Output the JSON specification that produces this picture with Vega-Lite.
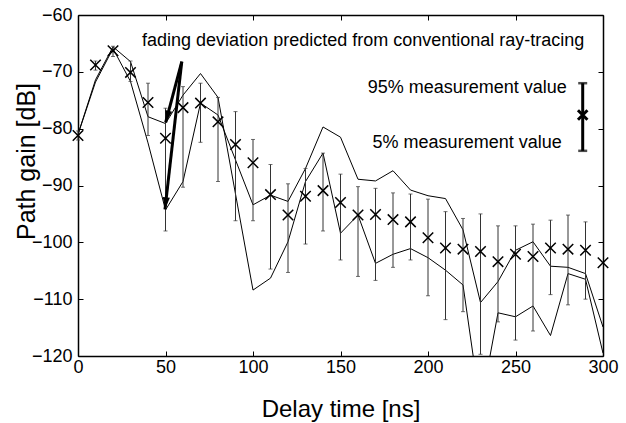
{
  "$schema": "https://vega.github.io/schema/vega-lite/v6.json",
  "width": 525,
  "height": 341,
  "autosize": {"type": "none"},
  "padding": {"left": 78, "top": 15, "right": 23, "bottom": 67},
  "background": "white",
  "config": {
    "view": {"stroke": null},
    "font": "Liberation Sans",
    "axis": {
      "grid": false,
      "domainColor": "black",
      "domainWidth": 1.5,
      "tickColor": "black",
      "tickWidth": 1,
      "tickSize": -5,
      "labelColor": "black",
      "labelFont": "Liberation Sans",
      "labelFontSize": 18,
      "labelFlush": false,
      "labelOverlap": false,
      "titleColor": "black",
      "titleFont": "Liberation Sans",
      "titleFontWeight": "normal",
      "titleFontSize": 24
    }
  },
  "datasets": {
    "meas": [
      {"t": 0, "m": -81.2, "lo": -82.0, "hi": -80.4},
      {"t": 10, "m": -68.8, "lo": -69.7, "hi": -68.1},
      {"t": 20, "m": -66.3, "lo": -67.3, "hi": -65.5},
      {"t": 30, "m": -70.1, "lo": -71.7, "hi": -68.1},
      {"t": 40, "m": -75.4, "lo": -81.2, "hi": -72.0},
      {"t": 50, "m": -81.7, "lo": -98.0, "hi": -76.4},
      {"t": 60, "m": -76.3, "lo": -90.3, "hi": -72.6},
      {"t": 70, "m": -75.5, "lo": -82.4, "hi": -72.0},
      {"t": 80, "m": -78.8, "lo": -89.3, "hi": -74.5},
      {"t": 90, "m": -82.8, "lo": -96.2, "hi": -77.0},
      {"t": 100, "m": -86.0, "lo": -96.2, "hi": -81.9},
      {"t": 110, "m": -91.6, "lo": -104.7, "hi": -86.3},
      {"t": 120, "m": -95.2, "lo": -105.3, "hi": -89.7},
      {"t": 130, "m": -91.9, "lo": -100.3, "hi": -87.0},
      {"t": 140, "m": -90.9, "lo": -98.0, "hi": -84.3},
      {"t": 150, "m": -93.0, "lo": -103.1, "hi": -88.0},
      {"t": 160, "m": -95.2, "lo": -106.0, "hi": -90.2},
      {"t": 170, "m": -95.1, "lo": -106.7, "hi": -90.5},
      {"t": 180, "m": -96.0, "lo": -104.4, "hi": -91.3},
      {"t": 190, "m": -96.4, "lo": -103.1, "hi": -91.5},
      {"t": 200, "m": -99.2, "lo": -109.4, "hi": -92.4},
      {"t": 210, "m": -101.0, "lo": -113.6, "hi": -94.6},
      {"t": 220, "m": -101.2, "lo": -112.2, "hi": -95.8},
      {"t": 230, "m": -101.6, "lo": -119.7, "hi": -95.0},
      {"t": 240, "m": -103.4, "lo": -114.0, "hi": -97.1},
      {"t": 250, "m": -102.1, "lo": -117.2, "hi": -97.1},
      {"t": 260, "m": -102.5, "lo": -115.6, "hi": -96.8},
      {"t": 270, "m": -101.0, "lo": -109.2, "hi": -96.1},
      {"t": 280, "m": -101.2, "lo": -111.0, "hi": -95.2},
      {"t": 290, "m": -101.4, "lo": -110.0, "hi": -96.4},
      {"t": 300, "m": -103.6, "lo": null, "hi": null}
    ],
    "pred": [
      {"s": "A", "t": 0, "g": -81.0}, {"s": "A", "t": 10, "g": -71.4}, {"s": "A", "t": 20, "g": -65.6},
      {"s": "A", "t": 30, "g": -68.2}, {"s": "A", "t": 40, "g": -77.9}, {"s": "A", "t": 50, "g": -79.1},
      {"s": "A", "t": 60, "g": -74.1}, {"s": "A", "t": 70, "g": -70.3}, {"s": "A", "t": 80, "g": -74.5},
      {"s": "A", "t": 90, "g": -91.5}, {"s": "A", "t": 100, "g": -108.4}, {"s": "A", "t": 110, "g": -106.3},
      {"s": "A", "t": 120, "g": -99.9}, {"s": "A", "t": 130, "g": -89.3}, {"s": "A", "t": 140, "g": -84.3},
      {"s": "A", "t": 150, "g": -98.4}, {"s": "A", "t": 160, "g": -95.2}, {"s": "A", "t": 170, "g": -103.7},
      {"s": "A", "t": 180, "g": -102.1}, {"s": "A", "t": 190, "g": -101.1}, {"s": "A", "t": 200, "g": -102.7},
      {"s": "A", "t": 210, "g": -104.9}, {"s": "A", "t": 220, "g": -107.5}, {"s": "A", "t": 230, "g": -129.0},
      {"s": "A", "t": 240, "g": -112.4}, {"s": "A", "t": 250, "g": -113.1}, {"s": "A", "t": 260, "g": -111.2},
      {"s": "A", "t": 270, "g": -116.4}, {"s": "A", "t": 280, "g": -105.5}, {"s": "A", "t": 290, "g": -106.5},
      {"s": "A", "t": 300, "g": -119.5},
      {"s": "B", "t": 0, "g": -81.0}, {"s": "B", "t": 10, "g": -71.8}, {"s": "B", "t": 20, "g": -65.9},
      {"s": "B", "t": 30, "g": -71.7}, {"s": "B", "t": 40, "g": -82.5}, {"s": "B", "t": 50, "g": -94.3},
      {"s": "B", "t": 60, "g": -89.3}, {"s": "B", "t": 70, "g": -75.5}, {"s": "B", "t": 80, "g": -77.6},
      {"s": "B", "t": 90, "g": -85.5}, {"s": "B", "t": 100, "g": -93.4}, {"s": "B", "t": 110, "g": -91.7},
      {"s": "B", "t": 120, "g": -92.8}, {"s": "B", "t": 130, "g": -87.0}, {"s": "B", "t": 140, "g": -79.7},
      {"s": "B", "t": 150, "g": -81.5}, {"s": "B", "t": 160, "g": -88.9}, {"s": "B", "t": 170, "g": -89.2},
      {"s": "B", "t": 180, "g": -87.4}, {"s": "B", "t": 190, "g": -90.8}, {"s": "B", "t": 200, "g": -91.8},
      {"s": "B", "t": 210, "g": -92.3}, {"s": "B", "t": 220, "g": -97.8}, {"s": "B", "t": 230, "g": -110.6},
      {"s": "B", "t": 240, "g": -106.9}, {"s": "B", "t": 250, "g": -101.4}, {"s": "B", "t": 260, "g": -99.9},
      {"s": "B", "t": 270, "g": -104.2}, {"s": "B", "t": 280, "g": -104.4}, {"s": "B", "t": 290, "g": -105.5},
      {"s": "B", "t": 300, "g": -114.9}
    ],
    "arrows": [
      {"id": "a1", "t0": 59.3, "g0": -68.2, "t1": 50.1, "g1": -78.9},
      {"id": "a2", "t0": 59.3, "g0": -68.2, "t1": 49.7, "g1": -94.2}
    ],
    "notes": [
      {"t": 36.6, "g": -65.45, "label": "fading deviation predicted from conventional ray-tracing", "pos": "left"},
      {"t": 279.3, "g": -73.7, "label": "95% measurement value", "pos": "right"},
      {"t": 276.4, "g": -83.4, "label": "5% measurement value", "pos": "right"}
    ],
    "key": [
      {"t": 288.4, "m": -77.6, "lo": -83.9, "hi": -72.0}
    ]
  },
  "resolve": {"axis": {"x": "independent", "y": "independent"}},
  "layer": [
    {
      "data": {"name": "pred"},
      "mark": {"type": "line", "color": "black", "strokeWidth": 1, "clip": true},
      "encoding": {
        "x": {"field": "t", "type": "quantitative", "scale": {"domain": [0, 300], "nice": false, "zero": false},
          "axis": {"orient": "bottom", "values": [0, 50, 100, 150, 200, 250, 300], "title": "Delay time [ns]",
            "labelPadding": 7, "titleY": 60, "titleBaseline": "alphabetic"}},
        "y": {"field": "g", "type": "quantitative", "scale": {"domain": [-120, -60], "nice": false, "zero": false},
          "axis": {"orient": "left", "values": [-120, -110, -100, -90, -80, -70, -60], "title": "Path gain [dB]",
            "labelPadding": 11, "titleFontSize": 25, "titleX": -44, "titleY": 146, "titleAngle": -90, "titleAlign": "center", "titleBaseline": "alphabetic"}},
        "detail": {"field": "s"}
      }
    },
    {
      "data": {"name": "meas"},
      "mark": {"type": "rule", "color": "#333333", "strokeWidth": 1},
      "encoding": {
        "x": {"field": "t", "type": "quantitative",
          "axis": {"orient": "top", "values": [0, 50, 100, 150, 200, 250, 300], "labels": false, "title": null}},
        "y": {"field": "lo", "type": "quantitative",
          "axis": {"orient": "right", "values": [-120, -110, -100, -90, -80, -70, -60], "labels": false, "title": null}},
        "y2": {"field": "hi"}
      }
    },
    {
      "data": {"name": "meas"},
      "mark": {"type": "tick", "orient": "horizontal", "color": "#333333", "size": 4, "thickness": 1},
      "encoding": {
        "x": {"field": "t", "type": "quantitative", "axis": null},
        "y": {"field": "lo", "type": "quantitative", "axis": null}
      }
    },
    {
      "data": {"name": "meas"},
      "mark": {"type": "tick", "orient": "horizontal", "color": "#333333", "size": 4, "thickness": 1},
      "encoding": {
        "x": {"field": "t", "type": "quantitative", "axis": null},
        "y": {"field": "hi", "type": "quantitative", "axis": null}
      }
    },
    {
      "data": {"name": "meas"},
      "mark": {"type": "point", "shape": "M-1,-1L1,1M1,-1L-1,1", "filled": false, "stroke": "black", "strokeWidth": 1.5, "size": 110, "opacity": 1},
      "encoding": {
        "x": {"field": "t", "type": "quantitative", "axis": null},
        "y": {"field": "m", "type": "quantitative", "axis": null}
      }
    },
    {
      "data": {"name": "arrows"},
      "mark": {"type": "rule", "color": "black", "strokeWidth": 3},
      "encoding": {
        "x": {"field": "t0", "type": "quantitative", "axis": null},
        "y": {"field": "g0", "type": "quantitative", "axis": null},
        "x2": {"field": "t1"},
        "y2": {"field": "g1"}
      }
    },
    {
      "data": {"name": "arrows"},
      "transform": [{"filter": "datum.id === 'a1'"}],
      "mark": {"type": "point", "shape": "M0,0L-0.6,-2L0.6,-2Z", "filled": true, "color": "black", "size": 144, "opacity": 1, "angle": 14.7},
      "encoding": {
        "x": {"field": "t1", "type": "quantitative", "axis": null},
        "y": {"field": "g1", "type": "quantitative", "axis": null}
      }
    },
    {
      "data": {"name": "arrows"},
      "transform": [{"filter": "datum.id === 'a2'"}],
      "mark": {"type": "point", "shape": "M0,0L-0.6,-2L0.6,-2Z", "filled": true, "color": "black", "size": 144, "opacity": 1, "angle": 6.5},
      "encoding": {
        "x": {"field": "t1", "type": "quantitative", "axis": null},
        "y": {"field": "g1", "type": "quantitative", "axis": null}
      }
    },
    {
      "data": {"name": "notes"},
      "transform": [{"filter": "datum.pos === 'left'"}],
      "mark": {"type": "text", "align": "left", "baseline": "alphabetic", "fontSize": 18, "font": "Liberation Sans", "color": "black"},
      "encoding": {
        "x": {"field": "t", "type": "quantitative", "axis": null},
        "y": {"field": "g", "type": "quantitative", "axis": null},
        "text": {"field": "label"}
      }
    },
    {
      "data": {"name": "notes"},
      "transform": [{"filter": "datum.pos === 'right'"}],
      "mark": {"type": "text", "align": "right", "baseline": "alphabetic", "fontSize": 18, "font": "Liberation Sans", "color": "black"},
      "encoding": {
        "x": {"field": "t", "type": "quantitative", "axis": null},
        "y": {"field": "g", "type": "quantitative", "axis": null},
        "text": {"field": "label"}
      }
    },
    {
      "data": {"name": "key"},
      "mark": {"type": "rule", "color": "black", "strokeWidth": 3},
      "encoding": {
        "x": {"field": "t", "type": "quantitative", "axis": null},
        "y": {"field": "lo", "type": "quantitative", "axis": null},
        "y2": {"field": "hi"}
      }
    },
    {
      "data": {"name": "key"},
      "mark": {"type": "tick", "orient": "horizontal", "color": "black", "size": 9, "thickness": 2.5},
      "encoding": {
        "x": {"field": "t", "type": "quantitative", "axis": null},
        "y": {"field": "lo", "type": "quantitative", "axis": null}
      }
    },
    {
      "data": {"name": "key"},
      "mark": {"type": "tick", "orient": "horizontal", "color": "black", "size": 9, "thickness": 2.5},
      "encoding": {
        "x": {"field": "t", "type": "quantitative", "axis": null},
        "y": {"field": "hi", "type": "quantitative", "axis": null}
      }
    },
    {
      "data": {"name": "key"},
      "mark": {"type": "point", "shape": "M-1,-1L1,1M1,-1L-1,1", "filled": false, "stroke": "black", "strokeWidth": 3, "size": 90, "opacity": 1},
      "encoding": {
        "x": {"field": "t", "type": "quantitative", "axis": null},
        "y": {"field": "m", "type": "quantitative", "axis": null}
      }
    }
  ]
}
